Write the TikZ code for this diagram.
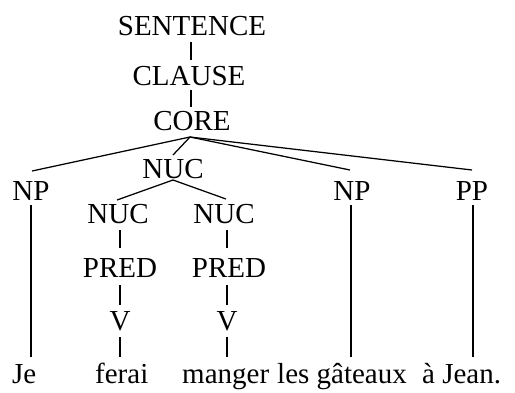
\documentclass[tikz,border=0pt]{standalone}
\usepackage{fontspec}
\setmainfont{Liberation Serif}
\usetikzlibrary{calc}
\begin{document}
\begin{tikzpicture}[x=1pt,y=-1pt,
  lab/.style={font=\fontsize{29}{34}\selectfont, inner sep=0pt, anchor=base, text height=19.5pt, text depth=0pt},
  wd/.style={lab, anchor=base west},
  br/.style={line width=1.25pt, black}]
\useasboundingbox (0,0) rectangle (515,392);
% labels
\node[lab] (s) at (192,35) {SENTENCE};
\node[lab] (cl) at (189,85) {CLAUSE};
\node[lab] (co) at (192,130) {CORE};
\node[lab] (nuc) at (173,178) {NUC};
\node[lab] (np1) at (31,200) {NP};
\node[lab] (np2) at (352,200) {NP};
\node[lab] (pp) at (472,200) {PP};
\node[lab] (nucL) at (118,223) {NUC};
\node[lab] (nucR) at (224,223) {NUC};
\node[lab] (predL) at (120,277) {PRED};
\node[lab] (predR) at (229,277) {PRED};
\node[lab] (vL) at (120,330) {V};
\node[lab] (vR) at (227,330) {V};
% words
\node[wd] (je) at (12,383) {Je};
\node[wd] (ferai) at (95,383) {ferai};
\node[wd] (manger) at (182,383) {manger};
\node[wd] (gat) at (277,383) {les gâteaux};
\node[wd] (jean) at (422,383) {à Jean.};
% branches
\draw[br] ($(s.base)+(-1,7)$) -- ($(cl.base)+(2,-25)$);
\draw[br] ($(cl.base)+(2,5)$) -- ($(co.base)+(-1,-23)$);
\coordinate (apex) at ($(co.base)+(-2,7)$);
\draw[br] (apex) -- ($(np1.base)+(1,-29)$);
\draw[br] (apex) -- ($(nuc.base)+(0,-23)$);
\draw[br] (apex) -- ($(np2.base)+(-2,-30)$);
\draw[br] (apex) -- ($(pp.base)+(0,-30)$);
\coordinate (nb) at ($(nuc.base)+(0,2)$);
\draw[br] (nb) -- ($(nucL.base)+(-1,-23)$);
\draw[br] (nb) -- ($(nucR.base)+(2,-24)$);
\draw[br] ($(nucL.base)+(2,7)$) -- ($(predL.base)+(0,-29)$);
\draw[br] ($(nucR.base)+(3,7)$) -- ($(predR.base)+(-2,-29)$);
\draw[br] ($(predL.base)+(0,8)$) -- ($(vL.base)+(0,-25)$);
\draw[br] ($(predR.base)+(-2,8)$) -- ($(vR.base)+(0,-25)$);
\draw[br] ($(vL.base)+(0,7)$) -- ($(ferai.base west)+(25,-26)$);
\draw[br] ($(vR.base)+(0,7)$) -- ($(manger.base west)+(45,-26)$);
\draw[br] ($(np1.base)+(0,5)$) -- ($(je.base west)+(19,-26)$);
\draw[br] ($(np2.base)+(-1,5)$) -- ($(gat.base west)+(74,-26)$);
\draw[br] ($(pp.base)+(1,5)$) -- ($(jean.base west)+(51,-26)$);
\end{tikzpicture}
\end{document}
